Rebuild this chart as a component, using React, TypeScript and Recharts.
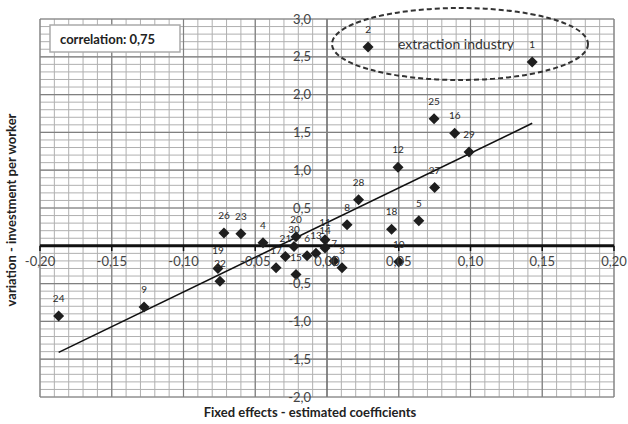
import React from "react";
import {
  ScatterChart,
  Scatter,
  XAxis,
  YAxis,
  ReferenceLine,
  ReferenceDot,
} from "recharts";

// values
const industryIds = [
  "1", "2", "3", "4", "5", "6", "7", "8", "9", "10",
  "11", "12", "13", "14", "15", "16", "17", "18", "19", "20",
  "21", "22", "23", "24", "25", "26", "27", "28", "29", "30",
];
const fixedEffects = [
  0.143, 0.0286, 0.0105, -0.0446, 0.064, -0.0139, 0.005, 0.014, -0.1275, 0.05,
  -0.0014, 0.0495, -0.0077, -0.0014, -0.0216, 0.089, -0.0355, 0.045, -0.076, -0.0216,
  -0.029, -0.0746, -0.06, -0.187, 0.0746, -0.0718, 0.075, 0.022, 0.099, -0.023,
];
const investmentVariation = [
  2.43, 2.63, -0.29, 0.04, 0.33, -0.13, -0.2, 0.28, -0.81, -0.21,
  0.08, 1.04, -0.1, -0.03, -0.38, 1.49, -0.29, 0.22, -0.3, 0.12,
  -0.14, -0.47, 0.16, -0.93, 1.68, 0.17, 0.77, 0.61, 1.24, -0.01,
];

const xTicks = [-0.2, -0.15, -0.1, -0.05, 0, 0.05, 0.1, 0.15, 0.2];
const xTickLabels = ["-0,20", "-0,15", "-0,10", "-0,05", "0,00", "0,05", "0,10", "0,15", "0,20"];
const yTicks = [3, 2.5, 2, 1.5, 1, 0.5, -0.5, -1, -1.5, -2];
const yTickLabels = ["3,0", "2,5", "2,0", "1,5", "1,0", "0,5", "-0,5", "-1,0", "-1,5", "-2,0"];

const trendStart = { x: -0.187, y: -1.41 };
const trendEnd = { x: 0.143, y: 1.62 };

const data = industryIds.map((id, i) => ({
  name: id,
  x: fixedEffects[i],
  y: investmentVariation[i],
}));

// grid lines every 0.01 / 0.1
const minorX: number[] = [];
for (let i = -20; i <= 20; i++) minorX.push(i / 100);
const minorY: number[] = [];
for (let i = -20; i <= 30; i++) minorY.push(i / 10);

const font = "Lato, 'Open Sans', sans-serif";

function Diamond(props: any) {
  const { cx, cy, payload } = props;
  const s = 5.5;
  return (
    <g>
      <path
        d={`M${cx},${cy - s} L${cx + s},${cy} L${cx},${cy + s} L${cx - s},${cy} Z`}
        fill="#1e1e1e"
      />
      <text
        x={cx}
        y={cy - 14}
        textAnchor="middle"
        fontSize={10}
        fontFamily={font}
        fill="#2a2a2a"
      >
        {payload.name}
      </text>
    </g>
  );
}

export default function App() {
  return (
    <div style={{ position: "absolute", left: 0, top: 0, width: 628, height: 424, background: "#fff" }}>
      <ScatterChart
        width={628}
        height={424}
        margin={{ top: 19, right: 14, bottom: 27, left: 40 }}
      >
        <XAxis type="number" dataKey="x" domain={[-0.2, 0.2]} ticks={xTicks} hide />
        <YAxis type="number" dataKey="y" domain={[-2, 3]} ticks={yTicks} hide />
        {minorX.map((v) => (
          <ReferenceLine key={"mx" + v} x={v} stroke="#b0b0b0" strokeWidth={1} />
        ))}
        {minorY.map((v) => (
          <ReferenceLine key={"my" + v} y={v} stroke="#b0b0b0" strokeWidth={1} />
        ))}
        {xTicks.map((v) => (
          <ReferenceLine key={"Mx" + v} x={v} stroke={v === 0 ? "#555" : "#808080"} strokeWidth={1.2} />
        ))}
        {yTicks.map((v) => (
          <ReferenceLine key={"My" + v} y={v} stroke="#808080" strokeWidth={1.2} />
        ))}
        <ReferenceLine y={0} stroke="#111" strokeWidth={3} />
        {xTicks.map((v) => (
          <ReferenceLine
            key={"tk" + v}
            segment={[{ x: v, y: 0 }, { x: v, y: -0.07 }]}
            stroke="#111"
            strokeWidth={1.5}
          />
        ))}
        {xTicks.map((v, i) => (
          <ReferenceDot
            key={"xl" + v}
            x={v}
            y={0}
            r={1}
            fill="none"
            stroke="none"
            label={{ value: xTickLabels[i], position: "bottom", offset: 10, fill: "#444", fontSize: 13, fontFamily: font }}
          />
        ))}
        {yTicks.map((v, i) => (
          <ReferenceDot
            key={"yl" + v}
            x={0}
            y={v}
            r={1}
            fill="none"
            stroke="none"
            label={{ value: yTickLabels[i], position: "left", offset: 15, fill: "#444", fontSize: 13, fontFamily: font }}
          />
        ))}
        <Scatter data={data} shape={<Diamond />} isAnimationActive={false} />
        <ReferenceLine segment={[trendStart, trendEnd]} stroke="#111" strokeWidth={1.6} />
      </ScatterChart>

      <svg
        width={628}
        height={424}
        style={{ position: "absolute", left: 0, top: 0, pointerEvents: "none" }}
      >
        <ellipse cx={460} cy={44} rx={128} ry={36} fill="none" stroke="#333" strokeWidth={2} strokeDasharray="5 3" />
        <text x={456} y={49} textAnchor="middle" fontSize={14} fontFamily={font} fill="#333">
          extraction industry
        </text>
        <rect x={50} y={25} width={130} height={27} fill="#fff" stroke="#aaa" strokeWidth={1.5} />
        <text x={60} y={44} fontSize={13} fontWeight="bold" fontFamily={font} fill="#222">
          correlation: 0,75
        </text>
        <text
          x={16}
          y={210}
          transform="rotate(-90 16 210)"
          textAnchor="middle"
          fontSize={13}
          fontWeight="bold"
          fontFamily={font}
          fill="#222"
        >
          variation - investment per worker
        </text>
        <text x={310} y={417} textAnchor="middle" fontSize={13} fontWeight="bold" fontFamily={font} fill="#222">
          Fixed effects - estimated coefficients
        </text>
      </svg>
    </div>
  );
}
